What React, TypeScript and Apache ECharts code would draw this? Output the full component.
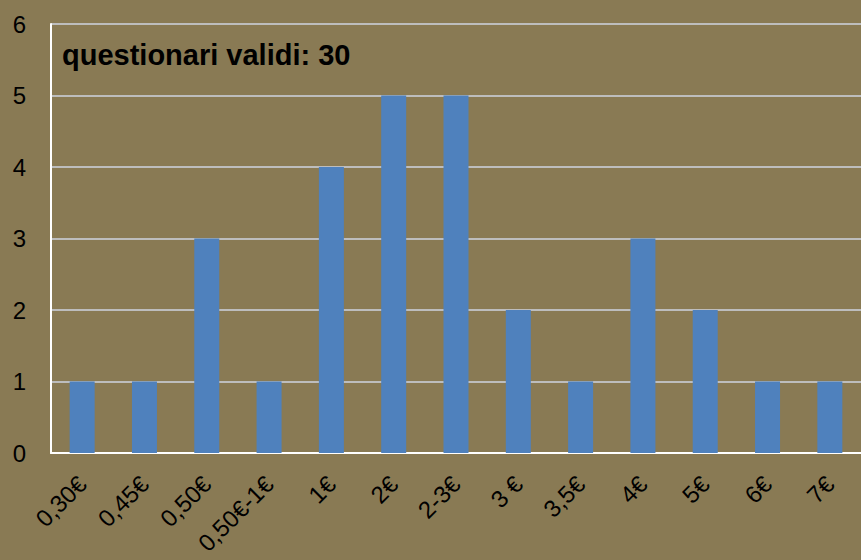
import React, { useEffect, useRef } from "react";
import * as echarts from "echarts";

const categories = ["0,30€", "0,45€", "0,50€", "0,50€-1€", "1€", "2€", "2-3€", "3 €", "3,5€", "4€", "5€", "6€", "7€"];
const values = [1, 1, 3, 1, 4, 5, 5, 2, 1, 3, 2, 1, 1];
const yTicks = [0, 1, 2, 3, 4, 5, 6];
const titleText = "questionari validi: 30";

export default function App() {
  const ref = useRef<HTMLDivElement>(null);
  useEffect(() => {
    if (!ref.current) return;
    const chart = echarts.init(ref.current, null, { renderer: "svg" });
    chart.setOption({
      animation: false,
      backgroundColor: "#897A54",
      title: {
        text: titleText,
        left: 62,
        top: 40,
        padding: 0,
        textStyle: { fontFamily: "'Liberation Sans', Arial", fontWeight: "bold", fontSize: 29, color: "#000" },
      },
      grid: { left: 51, top: 24, bottom: 107, width: 818 },
      xAxis: {
        type: "category",
        data: categories,
        axisLine: { lineStyle: { color: "#FFFFFF", width: 2 } },
        axisTick: { show: false },
        axisLabel: {
          rotate: 45,
          interval: 0,
          fontFamily: "'Liberation Sans', Arial",
          fontSize: 24,
          color: "#000",
          margin: 27,
        },
      },
      yAxis: {
        type: "value",
        min: yTicks[0],
        max: yTicks[yTicks.length - 1],
        interval: 1,
        axisLine: { show: true, lineStyle: { color: "#FFFFFF", width: 2 } },
        axisTick: { show: false },
        splitLine: { lineStyle: { color: "#BDBDBD", width: 2 } },
        axisLabel: { fontFamily: "'Liberation Sans', Arial", fontSize: 24, color: "#000", margin: 25 },
      },
      series: [
        {
          type: "bar",
          data: values,
          barWidth: 25,
          itemStyle: { color: "#4F81BD" },
        },
      ],
    });
    return () => chart.dispose();
  }, []);
  return <div ref={ref} style={{ position: "fixed", left: 0, top: 0, width: 861, height: 560 }} />;
}
